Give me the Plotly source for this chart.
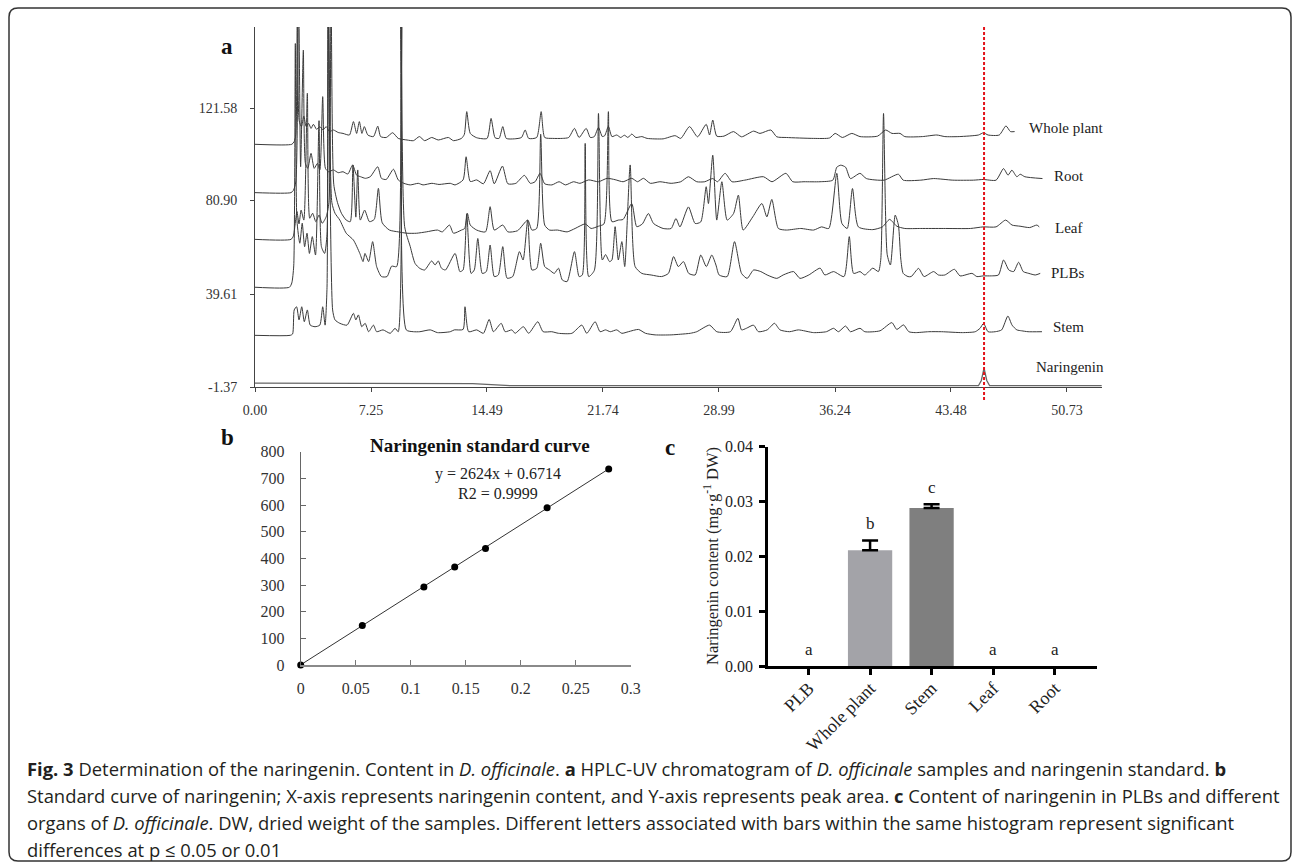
import plotly.graph_objects as go

W, H = 1295, 866
def fx(p): return p / W
def fy(p): return 1 - p / H

SERIF = "Liberation Serif, Times New Roman, serif"
SANS = "Open Sans, Noto Sans, sans-serif"

# ---------------- Panel a : HPLC chromatograms (time min, signal) ----------------
x_ticks_a = [0.00, 7.25, 14.49, 21.74, 28.99, 36.24, 43.48, 50.73]
y_ticks_a = [-1.37, 39.61, 80.90, 121.58]
trace_names = ["Whole plant", "Root", "Leaf", "PLBs", "Stem", "Naringenin"]
naringenin_rt = 45.55

whole_plant = [(0,105.6),(2.3,105.6),(2.45,106.8),(2.55,110),(2.65,175),(2.76,116),(2.9,113.4),(3.05,118),(3.2,113.4),(3.35,114.8),(3.5,112.6),(3.65,114.4),(3.85,112.2),(4.05,113.4),(4.25,111.9),(4.45,113.4),(4.65,111.2),(4.9,111.9),(5.2,110.8),(5.5,110.4),(5.9,109.7),(6.15,115.6),(6.35,110.4),(6.52,115.6),(6.68,110.4),(6.83,113.4),(7.05,109.7),(7.4,109.0),(7.67,113.6),(7.85,109.0),(8.2,108.6),(8.6,110.7),(8.95,108.2),(9.5,107.5),(9.9,107.2),(10.27,109.0),(10.6,107.2),(11.04,108.6),(11.45,107.5),(12.08,108.6),(12.4,107.2),(12.9,108.2),(13.08,110.0),(13.23,120.0),(13.45,110.4),(13.85,108.5),(14.5,108.2),(14.75,117.0),(15.0,108.5),(15.25,108.2),(15.48,113.4),(15.7,108.2),(16.2,108.0),(16.65,108.6),(16.88,111.9),(17.1,108.2),(17.6,108.6),(17.88,120.0),(18.1,108.6),(18.6,108.2),(19.2,108.2),(19.6,108.6),(19.96,112.6),(20.25,108.6),(20.69,112.6),(20.95,108.6),(21.2,109.0),(21.46,113.0),(21.7,109.0),(21.85,109.4),(22.08,113.5),(22.3,109.0),(22.6,109.7),(22.85,108.6),(23.08,109.6),(23.3,108.6),(23.54,110.1),(23.8,108.6),(24.17,109.0),(24.5,108.2),(25.5,108.0),(26.25,109.4),(26.6,108.2),(27.15,113.4),(27.65,108.9),(28.19,114.4),(28.4,109.7),(28.6,116.3),(28.85,109.2),(29.3,109.2),(29.9,111.2),(30.4,108.9),(31.15,111.4),(31.55,110.4),(32.23,111.9),(32.6,108.9),(33.2,108.6),(34.9,108.2),(35.9,108.4),(36.25,110.4),(36.7,108.6),(37.29,110.4),(37.8,109.0),(38.9,109.2),(39.4,111.9),(39.8,110.4),(40.3,110.4),(40.6,109.0),(41.7,109.0),(42.6,109.7),(43.1,109.0),(44.0,109.0),(45.2,109.7),(45.52,110.7),(45.8,109.7),(46.5,109.7),(46.92,113.7),(47.2,111.2),(47.46,111.2)]

root = [(0,84.3),(2.25,84.3),(2.4,85.3),(2.55,89.0),(2.72,175),(2.85,95.7),(3.02,147.1),(3.15,97.2),(3.3,95.0),(3.5,101.6),(3.7,95.0),(3.9,97.2),(4.05,94.3),(4.23,126.6),(4.4,95.0),(4.6,93.5),(4.9,94.3),(5.2,93.1),(5.5,93.5),(5.8,92.5),(6.1,96.5),(6.35,92.0),(6.6,91.3),(6.9,90.6),(7.2,91.3),(7.67,95.7),(7.9,90.6),(8.2,90.1),(8.65,94.6),(8.95,89.9),(9.3,88.4),(9.7,87.7),(10.2,88.4),(10.5,87.7),(11.05,88.4),(11.5,87.9),(12.2,88.4),(12.5,87.7),(13.0,89.9),(13.19,100.1),(13.45,89.2),(13.85,89.9),(14.27,88.2),(14.69,94.0),(14.95,88.2),(15.46,96.0),(15.8,88.2),(16.3,88.4),(16.83,91.9),(17.2,88.4),(17.5,89.1),(17.81,92.8),(18.1,88.2),(18.55,87.7),(19.0,89.1),(19.4,87.7),(19.9,89.1),(20.3,88.4),(20.85,89.9),(21.46,89.1),(22.0,90.6),(22.5,90.0),(23.0,89.1),(23.54,90.6),(23.9,89.1),(24.27,90.6),(24.7,88.4),(25.3,89.1),(26.0,88.4),(26.6,89.1),(27.08,91.3),(27.6,89.1),(28.1,89.1),(28.6,90.5),(28.9,89.1),(29.37,92.8),(29.8,89.1),(30.6,89.8),(31.77,91.3),(32.3,89.1),(33.17,92.8),(33.6,89.1),(34.3,89.1),(35.3,89.1),(36.1,89.8),(36.35,95.5),(36.6,96.4),(36.9,95.5),(37.2,90.5),(37.8,92.8),(38.2,90.5),(39.3,89.8),(40.2,92.4),(40.5,89.8),(41.6,89.8),(42.4,90.5),(43.6,89.8),(44.9,89.8),(45.5,90.1),(46.3,89.8),(46.77,94.9),(47.05,92.0),(47.29,94.2),(47.6,91.3),(47.81,92.4),(48.1,91.3),(49.2,90.5)]

leaf = [(0,63.7),(2.25,63.7),(2.4,65.2),(2.5,70.0),(2.62,76.0),(2.75,70.5),(2.88,76.6),(3.05,72.2),(3.27,128.1),(3.42,73.0),(3.6,75.2),(3.8,71.5),(4.0,74.4),(4.2,70.8),(4.45,73.7),(4.62,80.0),(4.75,175),(4.92,88.0),(5.15,80.0),(5.4,75.2),(5.7,72.2),(5.95,71.5),(6.12,96.5),(6.3,73.5),(6.42,94.3),(6.58,72.2),(6.85,76.6),(7.15,71.5),(7.45,72.5),(7.71,86.2),(7.95,71.0),(8.4,67.8),(8.95,67.0),(9.5,66.4),(10.1,66.4),(10.7,67.0),(11.4,67.8),(11.7,67.0),(12.15,70.0),(12.4,66.4),(12.9,67.8),(13.1,68.5),(13.27,75.2),(13.45,70.0),(13.85,67.8),(14.4,67.0),(14.69,78.1),(14.95,67.8),(15.48,70.0),(15.8,67.0),(16.4,67.5),(17.04,72.2),(17.3,67.8),(17.6,68.5),(17.85,110.0),(18.1,70.0),(18.4,67.8),(18.9,67.8),(19.5,67.0),(20.0,68.5),(20.63,70.5),(21.0,68.5),(21.46,69.5),(21.8,70.5),(22.08,120.0),(22.3,71.5),(22.7,72.2),(23.0,72.5),(23.54,79.5),(23.85,69.3),(24.2,70.5),(24.58,75.1),(24.9,70.7),(25.5,68.5),(26.0,68.5),(26.3,72.9),(26.55,69.2),(27.08,78.0),(27.5,70.7),(27.85,71.4),(28.19,86.9),(28.33,79.5),(28.6,100.8),(28.85,72.2),(29.17,89.1),(29.5,72.2),(29.9,75.1),(30.2,83.2),(30.5,67.8),(31.1,73.6),(31.67,79.5),(31.98,73.6),(32.29,81.3),(32.7,68.5),(33.2,67.8),(34.1,68.5),(34.9,67.8),(35.4,69.2),(35.85,68.5),(36.35,92.8),(36.67,70.7),(37.0,68.5),(37.33,86.1),(37.7,69.2),(38.6,68.0),(39.2,69.2),(39.65,72.5),(40.1,69.5),(40.6,68.5),(41.6,68.5),(43.0,68.5),(44.7,68.5),(45.5,69.2),(46.3,69.2),(46.9,72.2),(47.3,70.0),(47.8,69.5),(48.4,68.9),(48.85,70.0),(49.0,69.2)]

plbs = [(0,42.6),(2.15,42.6),(2.3,44.5),(2.42,52.0),(2.52,150.0),(2.62,72.0),(2.8,62.0),(2.95,70.8),(3.1,60.5),(3.25,66.4),(3.4,57.5),(3.58,64.9),(3.78,56.8),(4.0,116.0),(4.15,60.5),(4.35,57.5),(4.5,66.0),(4.6,175),(4.8,80.0),(5.0,75.2),(5.3,72.2),(5.7,66.4),(6.15,63.4),(6.55,57.5),(6.75,53.9),(6.87,57.5),(7.1,53.9),(7.35,62.7),(7.6,51.7),(7.9,47.3),(8.25,47.3),(8.54,51.9),(8.85,51.7),(9.1,175),(9.35,69.3),(9.7,60.5),(10.0,53.1),(10.3,50.9),(10.6,50.2),(11.04,54.2),(11.25,52.4),(11.45,54.2),(11.65,51.0),(11.9,50.2),(12.5,57.5),(12.8,49.5),(13.0,50.2),(13.23,75.0),(13.5,48.7),(13.7,50.2),(13.92,64.1),(14.2,48.7),(14.45,49.5),(14.69,61.2),(14.95,47.3),(15.2,48.0),(15.48,60.5),(15.75,46.6),(16.1,47.3),(16.52,58.3),(16.75,54.6),(17.04,72.2),(17.3,50.2),(17.6,50.9),(17.85,62.0),(18.1,51.7),(18.4,50.2),(18.7,48.7),(18.96,51.0),(19.2,45.8),(19.5,45.1),(19.96,58.3),(20.25,47.3),(20.45,48.0),(20.63,106.0),(20.85,47.3),(21.2,50.0),(21.46,119.2),(21.7,54.6),(21.9,57.0),(22.15,53.9),(22.3,54.6),(22.5,69.3),(22.7,54.6),(22.92,62.7),(23.1,51.7),(23.44,96.5),(23.75,51.7),(24.17,48.7),(24.75,48.0),(25.4,47.3),(25.83,48.7),(26.15,56.1),(26.45,51.7),(26.77,53.9),(27.1,48.7),(27.5,48.0),(27.85,56.8),(28.2,51.7),(28.54,56.8),(28.8,52.4),(29.0,48.0),(29.5,47.3),(29.96,62.7),(30.4,48.7),(30.75,46.5),(31.15,50.2),(31.6,49.5),(32.0,48.0),(32.6,46.5),(33.0,48.0),(33.65,49.5),(34.05,46.5),(34.6,48.0),(35.31,51.0),(35.6,48.0),(36.15,49.5),(36.8,47.3),(37.13,64.9),(37.4,48.7),(37.8,49.5),(38.1,48.0),(38.6,51.0),(38.95,49.5),(39.1,55.0),(39.27,119.2),(39.5,57.0),(39.7,52.4),(40.0,74.4),(40.2,70.0),(40.35,55.0),(40.5,48.7),(40.8,47.3),(41.0,47.3),(41.46,50.9),(41.8,47.3),(42.4,49.5),(42.7,48.0),(43.1,48.0),(43.7,50.5),(44.05,47.6),(44.8,48.7),(45.1,47.3),(45.5,47.6),(46.0,47.6),(46.45,48.0),(46.77,54.6),(47.1,50.2),(47.4,49.5),(47.71,53.6),(48.0,49.5),(48.35,48.7),(48.75,48.0),(49.06,48.7)]

stem = [(0,21.4),(2.2,21.4),(2.35,22.0),(2.45,32.6),(2.6,34.0),(2.75,28.2),(2.92,34.0),(3.08,27.4),(3.27,32.6),(3.45,25.9),(3.75,25.2),(4.05,25.9),(4.23,34.0),(4.38,25.9),(4.5,42.6),(4.56,175),(4.85,32.6),(5.0,28.2),(5.3,26.7),(5.75,25.9),(6.15,31.1),(6.3,28.2),(6.46,30.4),(6.67,25.2),(6.88,26.7),(7.1,23.0),(7.4,25.9),(7.6,23.0),(8.0,23.8),(8.45,22.3),(8.75,24.5),(8.95,23.0),(9.18,175),(9.45,23.8),(9.9,23.0),(10.3,23.0),(10.95,23.8),(11.4,22.6),(12.2,23.0),(12.45,23.8),(13.0,24.0),(13.12,34.0),(13.35,23.0),(13.85,23.8),(14.27,22.3),(14.63,28.4),(14.9,23.0),(15.38,26.7),(15.63,23.0),(16.05,23.8),(16.25,22.3),(16.77,25.2),(17.1,22.3),(17.67,27.4),(18.0,23.0),(18.54,23.0),(18.96,22.3),(19.8,22.3),(20.42,25.9),(20.73,22.3),(21.25,27.4),(21.56,23.0),(21.9,23.8),(22.2,23.0),(22.6,23.8),(22.92,22.3),(23.33,23.0),(23.96,24.0),(24.4,22.3),(25.0,21.6),(26.0,21.6),(26.6,21.9),(27.2,22.3),(27.6,23.0),(28.4,25.9),(28.85,23.0),(29.7,23.0),(30.17,28.9),(30.4,23.8),(30.7,24.5),(31.15,25.9),(31.45,23.0),(32.0,23.8),(32.46,26.7),(32.8,23.8),(33.4,23.0),(33.95,23.8),(34.9,22.6),(35.7,23.0),(36.15,24.5),(36.45,23.0),(36.9,25.5),(37.2,23.0),(37.8,24.5),(38.1,23.0),(39.05,23.4),(39.79,27.0),(40.1,24.0),(40.52,26.0),(40.85,23.0),(41.25,22.6),(42.1,23.0),(42.9,23.0),(44.2,22.6),(45.0,23.0),(45.3,24.5),(45.52,26.7),(45.8,23.0),(46.25,23.0),(46.65,23.8),(47.04,29.9),(47.3,25.9),(47.6,23.8),(47.9,23.4),(48.3,23.0),(49.17,23.0)]

naringenin_std = [(0,0.3),(13.6,0.1),(16.0,-0.8),(45.2,-0.8),(45.38,1.5),(45.55,6.9),(45.72,1.5),(45.9,-0.8),(52.9,-0.8)]

# ---------------- Panel b : standard curve ----------------
std_conc = [0, 0.056, 0.112, 0.14, 0.168, 0.224, 0.28]
std_area = [0, 148, 293, 368, 437, 590, 735]
fit_slope, fit_intercept, fit_r2 = 2624, 0.6714, 0.9999
x_ticks_b = [0, 0.05, 0.1, 0.15, 0.2, 0.25, 0.3]
y_ticks_b = [0, 100, 200, 300, 400, 500, 600, 700, 800]

# ---------------- Panel c : content bars ----------------
organs = ["PLB", "Whole plant", "Stem", "Leaf", "Root"]
content = [0.0, 0.0211, 0.0288, 0.0, 0.0]
content_err = [0.0, 0.0018, 0.0007, 0.0, 0.0]
sig_letters = ["a", "b", "c", "a", "a"]
bar_colors = ["#a3a3a8", "#a3a3a8", "#7f7f7f", "#a3a3a8", "#a3a3a8"]

fig = go.Figure()

line_col = "#3a3a3a"
for pts in [whole_plant, root, leaf, plbs, stem]:
    fig.add_trace(go.Scatter(x=[p[0] for p in pts], y=[p[1] for p in pts], mode="lines",
                             line=dict(color=line_col, width=1, shape="spline", smoothing=0.6),
                             xaxis="x", yaxis="y", hoverinfo="skip"))
fig.add_trace(go.Scatter(x=[p[0] for p in naringenin_std], y=[p[1] for p in naringenin_std],
                         mode="lines", line=dict(color="#666666", width=1.3),
                         xaxis="x", yaxis="y", hoverinfo="skip"))

fit_x = [std_conc[0], std_conc[-1]]
fit_y = [fit_slope * v + fit_intercept for v in fit_x]
fig.add_trace(go.Scatter(x=fit_x, y=fit_y, mode="lines", line=dict(color="#333333", width=1),
                         xaxis="x2", yaxis="y2", hoverinfo="skip"))
fig.add_trace(go.Scatter(x=std_conc, y=std_area, mode="markers",
                         marker=dict(color="black", size=7), cliponaxis=False,
                         xaxis="x2", yaxis="y2"))

fig.add_trace(go.Bar(x=organs, y=content, marker=dict(color=bar_colors, line=dict(width=0)),
                     width=0.72, xaxis="x3", yaxis="y3"))
err_idx = [i for i, e in enumerate(content_err) if e > 0]
fig.add_trace(go.Scatter(x=[organs[i] for i in err_idx], y=[content[i] for i in err_idx],
                         mode="markers", marker=dict(size=1, color="rgba(0,0,0,0)"),
                         error_y=dict(type="data", symmetric=False,
                                      array=[content_err[i] for i in err_idx],
                                      arrayminus=[0 for _ in err_idx],
                                      color="black", thickness=2.5, width=8),
                         xaxis="x3", yaxis="y3", hoverinfo="skip"))

tickfont_a = dict(family=SERIF, size=14, color="#333333")
layout = dict(
    width=W, height=H, autosize=False,
    margin=dict(l=0, r=0, t=0, b=0, pad=0, autoexpand=False),
    paper_bgcolor="white", plot_bgcolor="rgba(0,0,0,0)", showlegend=False,
    xaxis=dict(domain=[fx(255), fx(1102)], range=[0, 52.92], anchor="y",
               tickvals=x_ticks_a, ticktext=[f"{v:.2f}" for v in x_ticks_a],
               showline=True, linecolor="#444444", linewidth=1, ticks="outside", ticklen=4,
               tickcolor="#444444", showgrid=False, zeroline=False, tickfont=tickfont_a,
               ticklabelstandoff=6, automargin=False),
    yaxis=dict(domain=[fy(387), fy(27)], range=[-1.37, 157.3], anchor="x",
               tickvals=y_ticks_a, ticktext=[f"{v:.2f}" for v in y_ticks_a],
               showline=True, linecolor="#444444", linewidth=1, ticks="outside", ticklen=4,
               tickcolor="#444444", showgrid=False, zeroline=False, tickfont=tickfont_a,
               ticklabelstandoff=10, automargin=False),
    xaxis2=dict(domain=[fx(300.7), fx(630.7)], range=[0, 0.3], anchor="y2",
                tickvals=x_ticks_b, ticktext=[f"{v:g}" for v in x_ticks_b],
                showline=True, linecolor="#8a8a8a", linewidth=2, ticks="inside", ticklen=5,
                tickcolor="#777777", showgrid=False, zeroline=False,
                tickfont=dict(family=SERIF, size=16, color="#333333"), ticklabelstandoff=8,
                automargin=False),
    yaxis2=dict(domain=[fy(665), fy(451.7)], range=[0, 800], anchor="x2",
                tickvals=y_ticks_b, showline=True, linecolor="#666666", linewidth=1,
                ticks="inside", ticklen=5, tickcolor="#666666", showgrid=False, zeroline=False,
                tickfont=dict(family=SERIF, size=16, color="#333333"), ticklabelstandoff=12,
                automargin=False),
    xaxis3=dict(domain=[fx(768), fx(1097)], range=[-0.66, 4.69], anchor="y3",
                type="category", categoryorder="array", categoryarray=organs,
                showline=True, linecolor="black", linewidth=2.5, ticks="outside", ticklen=6,
                tickwidth=2.5, tickcolor="black", tickangle=-45, showgrid=False, zeroline=False,
                tickfont=dict(family=SERIF, size=18, color="#222222"), ticklabelstandoff=-4,
                automargin=False),
    yaxis3=dict(domain=[fy(666), fy(446.7)], range=[0, 0.04], anchor="x3",
                tickvals=[0, 0.01, 0.02, 0.03, 0.04], tickformat=".2f",
                showline=True, linecolor="black", linewidth=2.5, ticks="outside", ticklen=6,
                tickwidth=2.5, tickcolor="black", showgrid=False, zeroline=False,
                tickfont=dict(family=SERIF, size=16, color="#222222"), ticklabelstandoff=3,
                automargin=False),
)
fig.update_layout(**layout)

ann = []
for txt, x, y in [("a", 227, 47), ("b", 227, 437), ("c", 670, 447)]:
    ann.append(dict(text=f"<b>{txt}</b>", x=fx(x), y=fy(y), xref="paper", yref="paper",
                    showarrow=False, xanchor="center", yanchor="middle",
                    font=dict(family=SERIF, size=23, color="#111111")))
label_pos = [(50.73, 112.6), (50.83, 91.6), (50.8, 68.6), (50.8, 48.7), (50.8, 25.2), (50.94, 7.6)]
for name, (lx, ly) in zip(trace_names, label_pos):
    ann.append(dict(text=name, x=lx, y=ly, xref="x", yref="y", showarrow=False,
                    xanchor="center", yanchor="middle",
                    font=dict(family=SERIF, size=15, color="#222222")))
ann.append(dict(text="<b>Naringenin standard curve</b>", x=fx(479.5), y=fy(445), xref="paper",
                yref="paper", showarrow=False, font=dict(family=SERIF, size=19, color="#111111")))
ann.append(dict(text=f"y = {fit_slope}x + {fit_intercept}", x=fx(497.5), y=fy(474), xref="paper",
                yref="paper", showarrow=False, font=dict(family=SERIF, size=16, color="#222222")))
ann.append(dict(text=f"R2 = {fit_r2}", x=fx(497.5), y=fy(494), xref="paper",
                yref="paper", showarrow=False, font=dict(family=SERIF, size=16, color="#222222")))
for o, v, e, l in zip(organs, content, content_err, sig_letters):
    ann.append(dict(text=l, x=o, y=v + e, xref="x3", yref="y3", showarrow=False,
                    yanchor="middle", yshift=17, font=dict(family=SERIF, size=17, color="#222222")))
ann.append(dict(text="Naringenin content (mg·g<sup>-1</sup> DW)", x=fx(711), y=fy(556),
                xref="paper", yref="paper", showarrow=False, textangle=-90,
                font=dict(family=SERIF, size=16.5, color="#222222")))
caption = [
    "<b>Fig. 3</b> Determination of the naringenin. Content in <i>D. officinale</i>. <b>a</b> HPLC-UV chromatogram of <i>D. officinale</i> samples and naringenin standard. <b>b</b>",
    "Standard curve of naringenin; X-axis represents naringenin content, and Y-axis represents peak area. <b>c</b> Content of naringenin in PLBs and different",
    "organs of <i>D. officinale</i>. DW, dried weight of the samples. Different letters associated with bars within the same histogram represent significant",
    "differences at p ≤ 0.05 or 0.01",
]
for i, line in enumerate(caption):
    ann.append(dict(text=line, x=fx(25), y=fy(768 + 27 * i), xref="paper", yref="paper",
                    showarrow=False, xanchor="left", yanchor="middle", align="left",
                    font=dict(family=SANS, size=18.4, color="#231f20")))
fig.update_layout(annotations=ann)

shapes = [dict(type="line", xref="x", yref="paper", x0=naringenin_rt, x1=naringenin_rt,
               y0=fy(400), y1=fy(27), line=dict(color="#e3141b", width=2, dash="3px,2px"))]
x0, x1, y0, y1, r = 9, 1291, 8, 861, 9
def P(x, y): return f"{fx(x):.5f},{fy(y):.5f}"
path = (f"M {P(x0+r,y0)} L {P(x1-r,y0)} Q {P(x1,y0)} {P(x1,y0+r)} L {P(x1,y1-r)} "
        f"Q {P(x1,y1)} {P(x1-r,y1)} L {P(x0+r,y1)} Q {P(x0,y1)} {P(x0,y1-r)} "
        f"L {P(x0,y0+r)} Q {P(x0,y0)} {P(x0+r,y0)} Z")
shapes.append(dict(type="path", path=path, xref="paper", yref="paper",
                   line=dict(color="#333333", width=1.5)))
fig.update_layout(shapes=shapes)

fig.write_html("out.html",
               post_script="document.body.style.margin='0';document.body.style.overflow='hidden';")
